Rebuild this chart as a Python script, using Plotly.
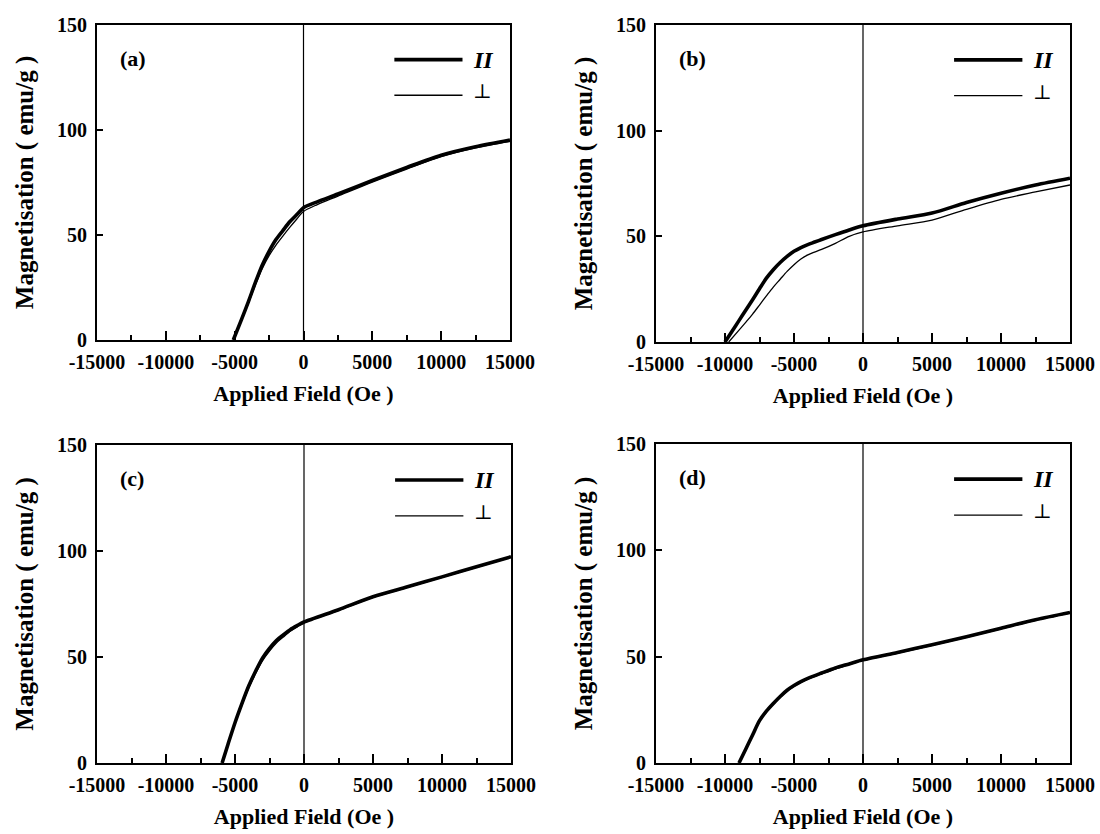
import plotly.graph_objects as go

# Applied field (Oe) and magnetisation (emu/g) for the four samples
# "par" = field parallel, "perp" = field perpendicular

H_a_par = [-5100, -4500, -4000, -3500, -3000, -2500, -2000, -1500, -1000, -500, 0, 1000, 2500, 5000, 7500, 10000, 12500, 15000]
M_a_par = [0, 9.8, 18.3, 27.3, 35.6, 42.2, 47.8, 52.1, 56.3, 59.6, 63.0, 65.8, 69.5, 76.0, 82.2, 88.0, 92.0, 95.2]
H_a_perp = [-5100, -4500, -4000, -3500, -3000, -2500, -2000, -1500, -1000, -500, 0, 1000, 2500, 5000, 7500, 10000, 12500, 15000]
M_a_perp = [0, 9.5, 17.6, 26.2, 34.0, 40.2, 45.2, 49.5, 53.6, 57.5, 61.2, 64.5, 68.5, 75.2, 81.4, 87.3, 91.5, 94.6]

H_b_par = [-10000, -9500, -9000, -8500, -8000, -7500, -7000, -6500, -6000, -5500, -5000, -4500, -4000, -3500, -3000, -2000, -1000, 0, 2500, 5000, 7500, 10000, 12500, 15000]
M_b_par = [0, 5.0, 10.0, 15.0, 20.0, 25.2, 30.2, 34.2, 37.6, 40.5, 42.9, 44.7, 46.1, 47.3, 48.5, 50.8, 53.0, 55.0, 58.2, 61.0, 66.0, 70.4, 74.3, 77.5]
H_b_perp = [-9730, -9000, -8500, -8000, -7500, -7000, -6500, -6000, -5500, -5000, -4500, -4000, -3000, -2000, -1000, 0, 2500, 5000, 7500, 10000, 12500, 15000]
M_b_perp = [0, 5.5, 9.3, 13.2, 17.5, 21.8, 26.0, 29.7, 33.4, 36.6, 39.3, 41.2, 43.8, 46.7, 50.0, 52.1, 55.0, 57.7, 62.8, 67.5, 71.0, 74.3]

H_c_par = [-5934, -5500, -5000, -4500, -4000, -3500, -3000, -2500, -2000, -1500, -1000, -500, 0, 2500, 5000, 7500, 10000, 12500, 15000]
M_c_par = [0, 9.0, 19.0, 28.0, 36.4, 43.4, 49.6, 54.1, 57.8, 60.4, 62.9, 64.8, 66.5, 72.3, 78.4, 83.1, 87.8, 92.6, 97.3]
H_c_perp = [-5934, -5500, -5000, -4500, -4000, -3500, -3000, -2500, -2000, -1500, -1000, -500, 0, 2500, 5000, 7500, 10000, 12500, 15000]
M_c_perp = [0, 8.8, 18.5, 27.3, 35.5, 42.3, 48.3, 52.8, 56.6, 59.4, 62.1, 64.2, 66.2, 72.0, 78.1, 82.8, 87.5, 92.3, 97.0]

H_d_par = [-8986, -8500, -8000, -7500, -7000, -6500, -6000, -5500, -5000, -4500, -4000, -3000, -2000, -1000, 0, 2500, 5000, 7500, 10000, 12500, 15000]
M_d_par = [0, 6.5, 13.2, 19.9, 24.4, 28.0, 31.3, 34.2, 36.4, 38.3, 39.8, 42.3, 44.7, 46.6, 48.5, 52.0, 55.6, 59.4, 63.4, 67.4, 70.8]
H_d_perp = [-8986, -8500, -8000, -7500, -7000, -6500, -6000, -5500, -5000, -4500, -4000, -3000, -2000, -1000, 0, 2500, 5000, 7500, 10000, 12500, 15000]
M_d_perp = [0, 6.3, 12.9, 19.5, 24.0, 27.6, 30.9, 33.8, 36.0, 37.9, 39.4, 41.9, 44.3, 46.3, 48.2, 51.7, 55.3, 59.1, 63.1, 67.1, 70.5]

panel_labels = ["(a)", "(b)", "(c)", "(d)"]
x_ticks = [-15000, -10000, -5000, 0, 5000, 10000, 15000]
x_minor = [-12500, -7500, -2500, 2500, 7500, 12500]
y_ticks = [0, 50, 100, 150]

panels = [
    (H_a_par, M_a_par, H_a_perp, M_a_perp),
    (H_b_par, M_b_par, H_b_perp, M_b_perp),
    (H_c_par, M_c_par, H_c_perp, M_c_perp),
    (H_d_par, M_d_par, H_d_perp, M_d_perp),
]

W, Hh = 1100, 834
# plot-area boxes in pixels: (left, right, top, bottom)
boxes = [(97, 510, 25, 340), (656, 1070, 25, 342), (97, 511, 445, 763), (656, 1070, 444, 763)]

FONT = "Liberation Serif, Times New Roman, serif"

fig = go.Figure()
layout = dict(
    width=W, height=Hh, margin=dict(l=0, r=0, t=0, b=0, autoexpand=False),
    paper_bgcolor="white", plot_bgcolor="white", showlegend=False,
    font=dict(family=FONT, color="black"),
)
shapes = []
annotations = []

for i, ((hp, mp, hq, mq), box) in enumerate(zip(panels, boxes)):
    n = "" if i == 0 else str(i + 1)
    xa, ya = "x" + n, "y" + n
    fig.add_trace(go.Scatter(x=hq, y=mq, mode="lines", xaxis=xa, yaxis=ya,
                             line=dict(color="black", width=1.3, shape="spline", smoothing=0.8)))
    fig.add_trace(go.Scatter(x=hp, y=mp, mode="lines", xaxis=xa, yaxis=ya,
                             line=dict(color="black", width=3.6, shape="spline", smoothing=0.8)))
    l, r, t, b = box
    layout["xaxis" + n] = dict(
        domain=[l / W, r / W], anchor=ya, range=[-15000, 15000], automargin=False,
        tickvals=x_ticks, ticktext=[str(v) for v in x_ticks],
        ticks="inside", ticklen=9, tickwidth=1.5, tickcolor="black", ticklabelstandoff=3,
        minor=dict(tickvals=x_minor, ticks="inside", ticklen=5, tickwidth=1.5, tickcolor="black"),
        showline=True, linecolor="black", linewidth=2, mirror=True,
        showgrid=False, zeroline=False,
        tickfont=dict(family=FONT, size=20, weight="bold", color="black"),
        title=dict(text="Applied Field (Oe )", standoff=14,
                   font=dict(family=FONT, size=22, weight="bold", color="black")),
    )
    layout["yaxis" + n] = dict(
        domain=[1 - b / Hh, 1 - t / Hh], anchor=xa, range=[0, 150], automargin=False,
        tickvals=y_ticks, ticks="inside", ticklen=6, tickwidth=1.5, tickcolor="black",
        ticklabelstandoff=4,
        showline=True, linecolor="black", linewidth=2, mirror=True,
        showgrid=False, zeroline=False,
        tickfont=dict(family=FONT, size=20, weight="bold", color="black"),
        title=dict(text="Magnetisation ( emu/g )", standoff=16,
                   font=dict(family=FONT, size=25, weight="bold", color="black")),
    )
    # vertical reference line at zero field
    shapes.append(dict(type="line", xref=xa, yref=ya + " domain", x0=0, x1=0, y0=0, y1=1,
                       line=dict(color="black", width=1.2)))
    # legend keys
    shapes.append(dict(type="line", xref=xa + " domain", yref=ya + " domain",
                       x0=0.72, x1=0.885, y0=0.89, y1=0.89, line=dict(color="black", width=3.6)))
    shapes.append(dict(type="line", xref=xa + " domain", yref=ya + " domain",
                       x0=0.72, x1=0.885, y0=0.777, y1=0.777, line=dict(color="black", width=1.3)))
    annotations.append(dict(xref=xa + " domain", yref=ya + " domain", x=0.935, y=0.89,
                            text="<b><i>II</i></b>", showarrow=False, xanchor="center", yanchor="middle",
                            font=dict(family=FONT, size=24, color="black")))
    annotations.append(dict(xref=xa + " domain", yref=ya + " domain", x=0.933, y=0.79,
                            text="⊥", showarrow=False, xanchor="center", yanchor="middle",
                            font=dict(family="DejaVu Serif, serif", size=20, color="black")))
    annotations.append(dict(xref=xa + " domain", yref=ya + " domain", x=0.05, y=0.895,
                            text="<b>" + panel_labels[i] + "</b>", showarrow=False,
                            xanchor="left", yanchor="middle",
                            font=dict(family=FONT, size=22, color="black")))

layout["shapes"] = shapes
layout["annotations"] = annotations
fig.update_layout(**layout)
fig.write_html("out.html")
